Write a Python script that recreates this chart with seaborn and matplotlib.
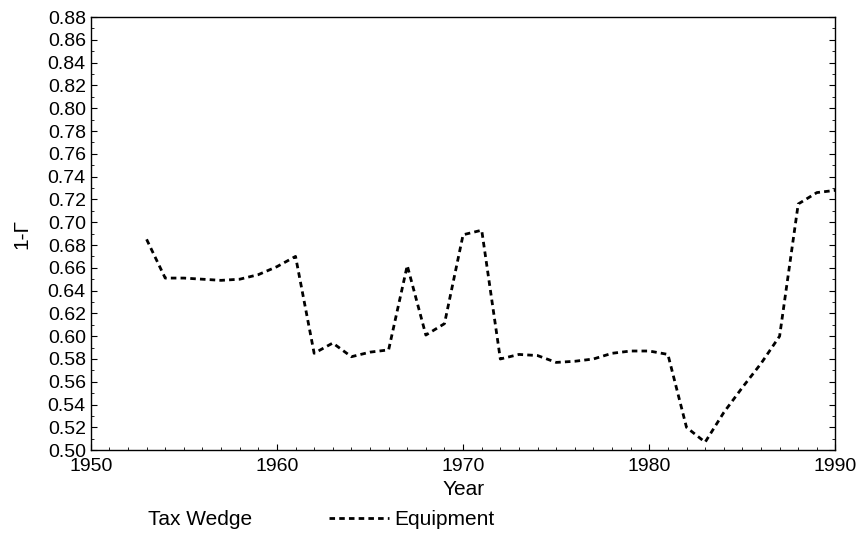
import pandas as pd
import matplotlib.pyplot as plt
import seaborn as sns
from matplotlib.ticker import MultipleLocator

sns.set_theme(style="ticks")
plt.rcParams['font.family'] = ['Liberation Sans', 'DejaVu Sans']
plt.rcParams['text.color'] = 'black'
plt.rcParams['axes.labelcolor'] = 'black'

# Tax wedge (1 - Gamma) for equipment
years = [1953, 1954, 1955, 1956, 1957, 1958, 1959, 1960, 1961, 1962,
         1963, 1964, 1965, 1966, 1967, 1968, 1969, 1970, 1971, 1972,
         1973, 1974, 1975, 1976, 1977, 1978, 1979, 1980, 1981, 1982,
         1983, 1984, 1985, 1986, 1987, 1988, 1989, 1990]
equipment = [0.685, 0.651, 0.651, 0.650, 0.649, 0.650, 0.654, 0.661, 0.670, 0.585,
             0.594, 0.582, 0.586, 0.588, 0.662, 0.601, 0.611, 0.689, 0.693, 0.580,
             0.584, 0.583, 0.577, 0.578, 0.580, 0.585, 0.587, 0.587, 0.584, 0.520,
             0.507, 0.533, 0.555, 0.576, 0.600, 0.716, 0.726, 0.728]

df = pd.DataFrame({'Year': years, 'Equipment': equipment})

fig = plt.figure(figsize=(8.56, 5.34), dpi=100)
ax = fig.add_axes([0.106, 0.157, 0.870, 0.811])

sns.lineplot(data=df, x='Year', y='Equipment', ax=ax, color='black',
             linewidth=2.0, linestyle='--', label='Equipment', legend=False)
ax.lines[0].set_dashes((2.0, 1.5))

ax.set_xlim(1950, 1990)
ax.set_ylim(0.50, 0.88)
ax.xaxis.set_major_locator(MultipleLocator(10))
ax.xaxis.set_minor_locator(MultipleLocator(1))
ax.yaxis.set_major_locator(MultipleLocator(0.02))
ax.yaxis.set_minor_locator(MultipleLocator(0.01))
ax.yaxis.set_major_formatter(plt.FormatStrFormatter('%.2f'))
ax.tick_params(which='both', direction='in', labelsize=14, right=True, colors='black')
ax.tick_params(axis='x', which='major', pad=6)
ax.tick_params(which='major', length=4, width=0.8)
ax.tick_params(which='minor', length=2, width=0.6)
for s in ax.spines.values():
    s.set_color('black')
    s.set_linewidth(1.0)

ax.set_xlabel('Year', fontsize=15, labelpad=3)
ax.set_ylabel('1-Γ', fontsize=15, labelpad=12)

fig.text(0.173, 0.027, 'Tax Wedge', fontsize=15, va='center')
fig.legend(handles=ax.lines[:1], labels=['Equipment'], loc='center left',
           bbox_to_anchor=(0.362, 0.027), frameon=False, fontsize=15,
           handlelength=2.9, handletextpad=0.25)

fig.savefig('out.png', dpi=100)
